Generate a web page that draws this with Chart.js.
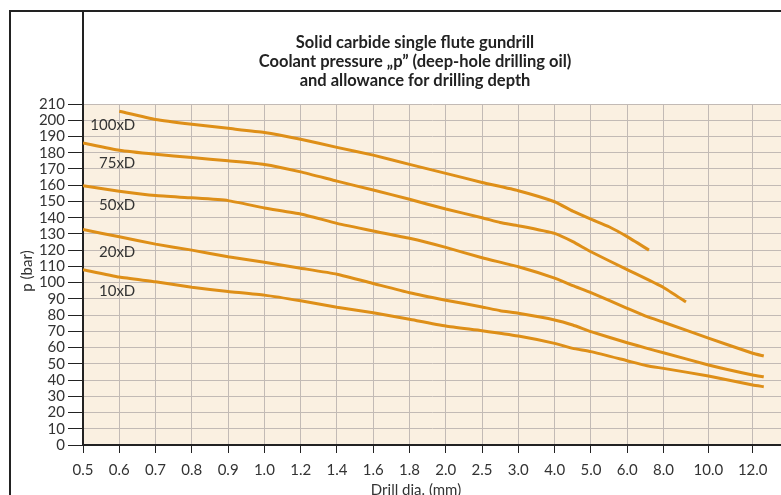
<!DOCTYPE html>
<html>
<head>
<meta charset="utf-8">
<script src="https://cdn.jsdelivr.net/npm/chart.js@4/dist/chart.umd.min.js"></script>
<style>
  html, body { margin: 0; padding: 0; background: #fff; }
</style>
</head>
<body>
<canvas id="graphChart" width="781" height="495"></canvas>
<script>
// x axis is not linear: ticks sit in equal slots, the last two slots are wider
const tickLabels = ['0.5', '0.6', '0.7', '0.8', '0.9', '1.0', '1.2', '1.4', '1.6', '1.8', '2.0', '2.5', '3.0', '4.0', '5.0', '6.0', '8.0', '10.0', '12.0'];
const tickValues = [0.5, 0.6, 0.7, 0.8, 0.9, 1.0, 1.2, 1.4, 1.6, 1.8, 2.0, 2.5, 3.0, 4.0, 5.0, 6.0, 8.0, 10.0, 12.0];
const tickSlots = [0, 1, 2, 3, 4, 5, 6, 7, 8, 9, 10, 11, 12, 13, 14, 15, 16, 17.24, 18.46];

const seriesNames = ['100xD', '75xD', '50xD', '20xD', '10xD'];
const labelBar = [197, 173.5, 148, 118.5, 95];

// drill diameter (mm) / pressure (bar) per depth
const dia100 = [0.6, 0.7, 0.8, 0.9, 1.0, 1.2, 1.4, 1.6, 1.8, 2.0, 2.5, 3.0, 4.0, 4.5, 5.0, 5.5, 6.0, 7.2];
const bar100 = [205.5, 200.5, 197.5, 195, 192.5, 188.3, 183.3, 178.5, 172.8, 167.3, 161.7, 156.6, 149.8, 144, 139.1, 134.4, 128.3, 120];

const dia75 = [0.5, 0.6, 0.7, 0.8, 0.9, 1.0, 1.2, 1.4, 1.6, 1.8, 2.0, 2.5, 2.75, 3.0, 4.0, 4.5, 5.0, 6.0, 8.0, 9.0];
const bar75 = [186, 181.5, 179, 177, 175, 172.8, 168.2, 162.5, 157, 151.3, 145.3, 140, 137, 135, 130.3, 125.2, 119, 108, 97, 88];

const dia50 = [0.5, 0.6, 0.7, 0.8, 0.9, 1.0, 1.2, 1.4, 1.6, 1.8, 2.0, 2.5, 3.0, 4.0, 4.5, 5.0, 6.0, 7.1, 8.0, 10.0, 12.0, 12.5];
const bar50 = [159.6, 156.3, 153.6, 152.2, 150.5, 146, 142.3, 136.5, 131.8, 127.3, 121.7, 115.3, 109.8, 102.8, 98.1, 93.8, 84.2, 79, 75.6, 65.8, 56.5, 54.8];

const dia20 = [0.5, 0.6, 0.7, 0.8, 0.9, 1.0, 1.2, 1.4, 1.6, 1.8, 2.0, 2.5, 2.75, 3.0, 4.0, 4.5, 5.0, 6.0, 7.1, 8.0, 10.0, 12.0, 12.5];
const bar20 = [132.7, 128.2, 123.7, 120, 115.9, 112.5, 108.9, 105.2, 99.5, 93.8, 89.2, 85, 82.7, 81.1, 77, 73.9, 69.8, 63, 59.5, 56.8, 49.3, 43.1, 42];

const dia10 = [0.5, 0.6, 0.7, 0.8, 0.9, 1.0, 1.2, 1.4, 1.6, 1.8, 2.0, 2.5, 3.0, 4.0, 4.5, 5.0, 6.0, 7.1, 8.0, 10.0, 12.0, 12.5];
const bar10 = [108, 103.4, 100.5, 97.1, 94.6, 92.3, 88.8, 84.8, 81.5, 77.4, 73.3, 70.4, 67.1, 62.6, 59.5, 57.5, 51.9, 48.8, 47.2, 42.5, 36.9, 35.9];

const titleLines = ['Solid carbide single flute gundrill', 'Coolant pressure \u201Ep\u201D (deep-hole drilling oil)', 'and allowance for drilling depth'];

// diameter -> axis slot, piecewise linear between tick values
function toSlot(d) {
  let i = 0;
  while (i < tickValues.length - 2 && d > tickValues[i + 1]) i++;
  const t = (d - tickValues[i]) / (tickValues[i + 1] - tickValues[i]);
  return tickSlots[i] + t * (tickSlots[i + 1] - tickSlots[i]);
}

function makeSeries(dia, bar) {
  return dia.map((d, i) => ({ x: toSlot(d), y: bar[i] }));
}

const lineColor = '#de8f18';
const allDia = [dia100, dia75, dia50, dia20, dia10];
const allBar = [bar100, bar75, bar50, bar20, bar10];

const datasets = seriesNames.map((name, i) => ({
  label: name,
  data: makeSeries(allDia[i], allBar[i]),
  borderColor: lineColor,
  borderWidth: 3,
  fill: false,
  tension: 0.15,
  pointRadius: 0
}));

const decor = {
  id: 'decor',
  beforeDraw(chart) {
    const c = chart.ctx;
    const a = chart.chartArea;
    c.save();
    c.fillStyle = '#ffffff';
    c.fillRect(0, 0, chart.width, chart.height);
    c.fillStyle = '#faf0e1';
    c.fillRect(a.left, a.top, a.right - a.left, a.bottom - a.top);
    c.restore();
  },
  afterDraw(chart) {
    const c = chart.ctx;
    const a = chart.chartArea;
    const xs = chart.scales.x;
    const ys = chart.scales.y;
    c.save();

    // frame
    c.strokeStyle = '#222';
    c.lineWidth = 2;
    c.beginPath();
    c.moveTo(10, chart.height);
    c.lineTo(10, 11);
    c.lineTo(chart.width, 11);
    c.moveTo(a.left, 11);
    c.lineTo(a.left, a.top);
    c.stroke();

    // title
    c.fillStyle = '#222';
    c.textAlign = 'center';
    c.textBaseline = 'middle';
    c.font = 'bold 16.5px Lato';
    titleLines.forEach((t, i) => c.fillText(t, 415, 43 + i * 19));

    // axis titles
    c.fillStyle = '#333';
    c.font = '15px Lato';
    c.fillText('Drill dia. (mm)', 416, 490);
    c.translate(27, 271);
    c.rotate(-Math.PI / 2);
    c.fillText('p (bar)', 0, 0);
    c.setTransform(1, 0, 0, 1, 0, 0);

    // series labels
    c.textAlign = 'right';
    c.font = '15px Lato';
    const lx = xs.getPixelForValue(toSlot(0.6)) + 16;
    seriesNames.forEach((n, i) => c.fillText(n, lx, ys.getPixelForValue(labelBar[i])));
    c.restore();
  }
};

const tickFont = { family: 'Lato', size: 15 };

new Chart(document.getElementById('graphChart'), {
  type: 'line',
  data: { datasets: datasets },
  options: {
    responsive: false,
    animation: false,
    layout: { padding: { top: 104, left: 0, right: 0, bottom: 0 } },
    plugins: {
      legend: { display: false },
      tooltip: { enabled: false },
      title: { display: false }
    },
    scales: {
      x: {
        type: 'linear',
        min: 0,
        max: 19.24,
        afterBuildTicks: (s) => { s.ticks = tickSlots.map(v => ({ value: v })); },
        afterFit: (s) => { s.height = 50; },
        ticks: {
          autoSkip: false,
          maxRotation: 0,
          padding: 8,
          color: '#333',
          font: tickFont,
          callback: (v, i) => tickLabels[i]
        },
        grid: { color: '#c2bab5', lineWidth: 1, tickColor: '#222', tickLength: 8 },
        border: { color: '#222', width: 2 }
      },
      y: {
        min: 0,
        max: 210,
        afterFit: (s) => { s.width = 83; },
        ticks: { stepSize: 10, autoSkip: false, padding: 3, color: '#333', font: tickFont },
        grid: { color: '#c2bab5', lineWidth: 1, tickColor: '#222', tickLength: 15 },
        border: { color: '#222', width: 2 }
      }
    }
  },
  plugins: [decor]
});
</script>
</body>
</html>
